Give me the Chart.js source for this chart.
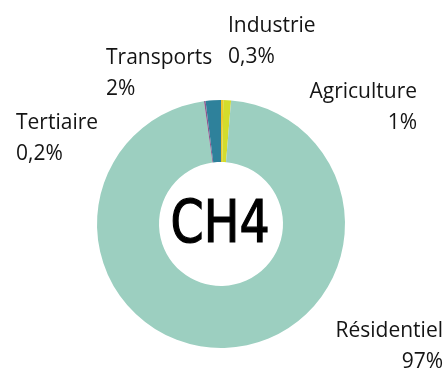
<!DOCTYPE html>
<html lang="fr">
<head>
<meta charset="utf-8">
<title>CH4</title>
<script src="https://cdn.jsdelivr.net/npm/chart.js@4"></script>
<style>
  html, body { margin: 0; padding: 0; background: #ffffff; }
  #graph { display: block; }
</style>
</head>
<body>
<canvas id="graph" width="447" height="370"></canvas>
<script>
// Émissions de CH4 par secteur (ordre horaire depuis le haut)
const secteurs = ['Industrie', 'Agriculture', 'Résidentiel', 'Tertiaire', 'Transports'];
const parts    = [0.3, 1, 97, 0.2, 2];
const couleurs = ['#efc62a', '#d3dc2c', '#9ccfc0', '#8d5a8e', '#2e819b'];

// Position des étiquettes (x, y de la 1re ligne de base, alignement)
const posEtiquettes = {
    'Industrie':   { x: 228, y: 32,  align: 'left' },
    'Agriculture': { x: 417, y: 98,  align: 'right' },
    'Résidentiel': { x: 443, y: 337, align: 'right' },
    'Tertiaire':   { x: 16,  y: 129, align: 'left' },
    'Transports':  { x: 106, y: 64,  align: 'left' },
};

const formatPct = v => String(v).replace('.', ',') + '%';

const etiquettes = {
    id: 'etiquettes',
    afterDraw(chart) {
        const ctx = chart.ctx;
        const meta = chart.getDatasetMeta(0);
        ctx.save();
        ctx.fillStyle = '#141414';
        ctx.font = '21px "Open Sans", Lato, sans-serif';
        ctx.textBaseline = 'alphabetic';
        chart.data.labels.forEach((lab, i) => {
            const p = posEtiquettes[lab];
            if (!p) return;
            ctx.textAlign = p.align;
            ctx.fillText(lab, p.x, p.y);
            ctx.fillText(formatPct(chart.data.datasets[0].data[i]), p.x, p.y + 31);
        });

        // titre au centre de l'anneau, un peu resserré
        const arc = meta.data[0];
        ctx.fillStyle = '#000000';
        ctx.textAlign = 'center';
        ctx.textBaseline = 'alphabetic';
        ctx.font = '58px "DejaVu Sans Condensed", "DejaVu Sans", sans-serif';
        ctx.translate(arc.x, 0);
        ctx.scale(0.91, 1);
        ctx.lineWidth = 1.2;
        ctx.strokeStyle = '#000000';
        ctx.fillText('CH4', -1, 242);
        ctx.strokeText('CH4', -1, 242);
        ctx.restore();
    }
};

new Chart(document.getElementById('graph'), {
    type: 'doughnut',
    data: {
        labels: secteurs,
        datasets: [{
            data: parts,
            backgroundColor: couleurs,
            borderWidth: 0,
        }]
    },
    options: {
        responsive: false,
        animation: false,
        cutout: '50%',
        rotation: 0,
        layout: { padding: { left: 97, right: 102, top: 100, bottom: 22 } },
        plugins: {
            legend: { display: false },
            tooltip: { enabled: false }
        }
    },
    plugins: [etiquettes]
});
</script>
</body>
</html>
